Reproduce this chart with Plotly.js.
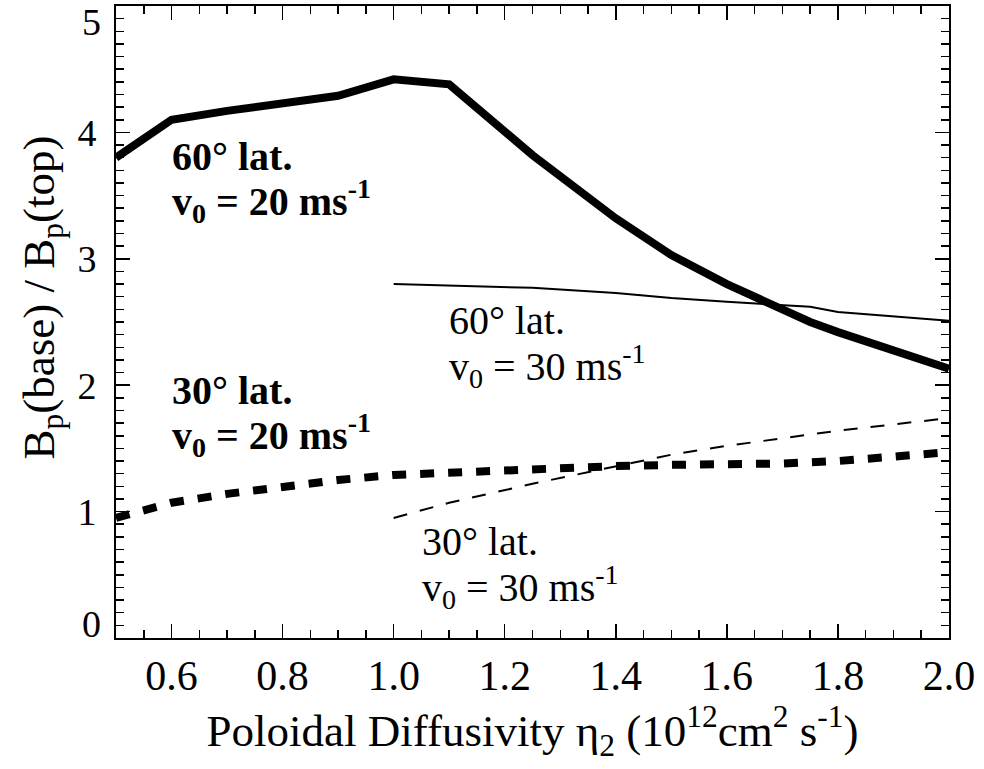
<!DOCTYPE html>
<html>
<head>
<meta charset="utf-8">
<script src="https://cdn.plot.ly/plotly-3.0.1.min.js"></script>
<style>html,body{margin:0;padding:0;background:#fff;}#chart{width:984px;height:769px;}</style>
</head>
<body>
<div id="chart"></div>
<script>
// 60° lat., v0 = 20 m/s (thick solid)
const x60v20 = [0.5, 0.6, 0.7, 0.75, 0.8, 0.9, 1.0, 1.1, 1.25, 1.4, 1.5, 1.6, 1.7, 1.75, 1.8, 1.9, 2.0];
const y60v20 = [3.80, 4.10, 4.17, 4.20, 4.22, 4.29, 4.42, 4.38, 3.82, 3.32, 3.03, 2.80, 2.60, 2.50, 2.42, 2.27, 2.13];
// 60° lat., v0 = 30 m/s (thin solid)
const x60v30 = [1.0, 1.25, 1.4, 1.5, 1.6, 1.75, 1.8, 2.0];
const y60v30 = [2.80, 2.77, 2.73, 2.69, 2.66, 2.62, 2.58, 2.51];
// 30° lat., v0 = 20 m/s (thick dashed)
const x30v20 = [0.5, 0.6, 0.7, 0.8, 0.9, 1.0, 1.1, 1.25, 1.4, 1.5, 1.6, 1.7, 1.8, 1.9, 2.0];
const y30v20 = [0.95, 1.07, 1.14, 1.20, 1.25, 1.29, 1.31, 1.34, 1.36, 1.37, 1.37, 1.38, 1.40, 1.43, 1.47];
// 30° lat., v0 = 30 m/s (thin dashed)
const x30v30 = [1.0, 1.1, 1.25, 1.4, 1.5, 1.6, 1.75, 1.8, 2.0];
const y30v30 = [0.95, 1.07, 1.22, 1.36, 1.45, 1.52, 1.61, 1.64, 1.74];

const xTickVals = [0.6, 0.8, 1.0, 1.2, 1.4, 1.6, 1.8, 2.0];
const xTickText = ['0.6', '0.8', '1.0', '1.2', '1.4', '1.6', '1.8', '2.0'];
const yTickVals = [0, 1, 2, 3, 4, 5];
const yTickText = ['0', '1', '2', '3', '4', '5'];

const xTitle = 'Poloidal Diffusivity η<sub>2</sub> (10<sup>12</sup>cm<sup>2</sup> s<sup>-1</sup>)';
const yTitle = 'B<sub>p</sub>(base) / B<sub>p</sub>(top)';

const FONT = 'Liberation Serif, Times New Roman, serif';
const yMin = yTickVals[0], yMax = yTickVals[yTickVals.length - 1];

const traces = [
  {x: x60v20, y: y60v20, mode: 'lines', line: {color: '#000', width: 8}, name: '60° lat. v0=20'},
  {x: x60v30, y: y60v30, mode: 'lines', line: {color: '#000', width: 2}, name: '60° lat. v0=30'},
  {x: x30v20, y: y30v20, mode: 'lines', line: {color: '#000', width: 8, dash: '14px,14px'}, name: '30° lat. v0=20'},
  {x: x30v30, y: y30v30, mode: 'lines', line: {color: '#000', width: 2, dash: '14px,13px'}, name: '30° lat. v0=30'}
];

function ann(x, y, text, bold) {
  return {x: x, y: y, xref: 'x', yref: 'y', text: bold ? '<b>' + text + '</b>' : text,
    showarrow: false, xanchor: 'left', yanchor: 'middle',
    font: {family: FONT, size: 40, color: '#000'}};
}

// End tick labels (0 and 5) are nudged inside the frame as in the reference
const edgeLabels = yTickVals.map((v, i) => {
  if (v !== yMin && v !== yMax) return null;
  return {x: 0, xref: 'paper', y: v, yref: 'y', text: yTickText[i], showarrow: false,
    xanchor: 'right', yanchor: 'middle', xshift: -13, yshift: v === yMax ? -16 : 14,
    font: {family: FONT, size: 38, color: '#000'}};
}).filter(Boolean);

const layout = {
  width: 984, height: 769,
  margin: {l: 116, r: 35, t: 6, b: 131},
  paper_bgcolor: '#fff', plot_bgcolor: '#fff',
  showlegend: false,
  font: {family: FONT, color: '#000'},
  xaxis: {
    range: [0.5, 2.0], tickvals: xTickVals, ticktext: xTickText,
    ticks: 'inside', ticklen: 14, tickwidth: 1.5, tickcolor: '#000',
    minor: {dtick: 0.05, tick0: 0.5, ticks: 'inside', ticklen: 8, tickwidth: 1.5, tickcolor: '#000'},
    showline: true, linecolor: '#000', linewidth: 2, mirror: 'allticks',
    showgrid: false, zeroline: false,
    tickfont: {family: FONT, size: 42, color: '#000'},
    title: {text: xTitle, font: {family: FONT, size: 45, color: '#000'}, standoff: 2}
  },
  yaxis: {
    range: [yMin, yMax], tickvals: yTickVals,
    ticktext: yTickVals.map((v, i) => (v === yMin || v === yMax) ? '' : yTickText[i]),
    ticks: 'inside', ticklen: 14, tickwidth: 1.5, tickcolor: '#000',
    minor: {dtick: 0.1, tick0: 0, ticks: 'inside', ticklen: 8, tickwidth: 1.5, tickcolor: '#000'},
    showline: true, linecolor: '#000', linewidth: 2, mirror: 'allticks',
    showgrid: false, zeroline: false,
    tickfont: {family: FONT, size: 38, color: '#000'},
    ticklabelstandoff: 10
  },
  annotations: [
    ann(0.597, 3.81, '60° lat.', true),
    ann(0.597, 3.454, 'v<sub>0</sub> = 20 ms<sup>-1</sup>', true),
    ann(0.597, 1.957, '30° lat.', true),
    ann(0.597, 1.609, 'v<sub>0</sub> = 20 ms<sup>-1</sup>', true),
    ann(1.096, 2.511, '60° lat.', false),
    ann(1.096, 2.155, 'v<sub>0</sub> = 30 ms<sup>-1</sup>', false),
    ann(1.047, 0.762, '30° lat.', false),
    ann(1.047, 0.405, 'v<sub>0</sub> = 30 ms<sup>-1</sup>', false),
    {x: -0.0894, xref: 'paper', y: 0.538, yref: 'paper', text: yTitle, textangle: -90,
     showarrow: false, xanchor: 'center', yanchor: 'middle',
     font: {family: FONT, size: 45, color: '#000'}}
  ].concat(edgeLabels)
};

Plotly.newPlot('chart', traces, layout, {displayModeBar: false, staticPlot: true});
</script>
</body>
</html>
